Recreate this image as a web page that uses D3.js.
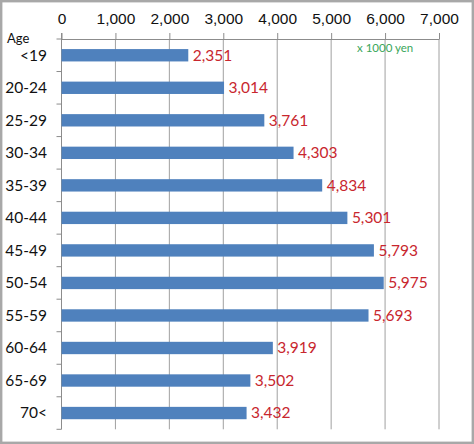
<!DOCTYPE html>
<meta charset="utf-8">
<style>
  body { margin: 0; background: #fff; }
  svg { display: block; font-family: Lato, "Open Sans", sans-serif; }
  .grid line { stroke: #a0a0a0; }
  .xaxis path, .xaxis line, .yaxis line { stroke: #8c8c8c; }
  .xaxis text { font-size: 15.5px; fill: #111; }
  .cat { font-size: 15.5px; fill: #111; }
  .val { font-size: 15.5px; fill: #c8262e; }
</style>
<body>
</body>
<script src="https://cdn.jsdelivr.net/npm/d3@7/dist/d3.min.js"></script>
<script>
  const ages = ['<19', '20-24', '25-29', '30-34', '35-39', '40-44', '45-49',
                '50-54', '55-59', '60-64', '65-69', '70<'];
  const income = [2351, 3014, 3761, 4303, 4834, 5301, 5793, 5975, 5693, 3919, 3502, 3432];
  const xTicks = [0, 1000, 2000, 3000, 4000, 5000, 6000, 7000];
  const unitLabel = 'x 1000 yen';
  const axisTitle = 'Age';

  const w = 474, h = 444;
  const l = 61.5, r = 439, t = 39, b = 429.3;

  const svg = d3.select('body').append('svg')
    .attr('width', w)
    .attr('height', h);

  svg.append('rect')
    .attr('x', 1.2).attr('y', 1.2)
    .attr('width', w - 2.4).attr('height', h - 2.4)
    .attr('fill', '#fff')
    .attr('stroke', '#a8a8a8')
    .attr('stroke-width', 2.4);

  const x = d3.scaleLinear().domain([0, 7000]).range([l, r]);
  const y = d3.scaleBand().domain(ages).range([t, b])
    .paddingInner(0.62).paddingOuter(0.31);
  const data = ages.map((a, i) => ({age: a, v: income[i]}));

  // vertical gridlines
  svg.append('g').attr('class', 'grid')
    .selectAll('line')
    .data(xTicks.slice(1))
    .join('line')
    .attr('x1', d => x(d)).attr('x2', d => x(d))
    .attr('y1', t).attr('y2', b);

  // top axis
  svg.append('g').attr('class', 'xaxis')
    .attr('transform', `translate(0, ${t})`)
    .call(d3.axisTop(x).tickValues(xTicks).tickFormat(d3.format(',')).tickSize(6).tickSizeOuter(0).tickPadding(9))
    .call(g => g.select('.domain').attr('stroke', '#8c8c8c'));

  // left axis line + ticks at band edges
  const yaxis = svg.append('g').attr('class', 'yaxis');
  yaxis.append('line')
    .attr('x1', l).attr('x2', l).attr('y1', t - 6).attr('y2', b);
  const step = y.step();
  const edges = ages.map(a => y(a) - (step - y.bandwidth()) / 2).concat([b]);
  yaxis.selectAll('line.tk')
    .data(edges)
    .join('line').attr('class', 'tk')
    .attr('x1', l - 5).attr('x2', l)
    .attr('y1', d => d).attr('y2', d => d);

  // bars
  svg.append('g')
    .selectAll('rect')
    .data(data)
    .join('rect')
    .attr('x', x(0))
    .attr('y', d => y(d.age))
    .attr('width', d => x(d.v) - x(0))
    .attr('height', y.bandwidth())
    .attr('fill', '#4f81bd');

  // category labels
  svg.append('g')
    .selectAll('text')
    .data(data)
    .join('text')
    .attr('class', 'cat')
    .attr('x', 47)
    .attr('y', d => y(d.age) + y.bandwidth() / 2)
    .attr('dy', '0.35em')
    .attr('text-anchor', 'end')
    .text(d => d.age);

  // value labels
  svg.append('g')
    .selectAll('text')
    .data(data)
    .join('text')
    .attr('class', 'val')
    .attr('x', d => x(d.v) + 4.5)
    .attr('y', d => y(d.age) + y.bandwidth() / 2)
    .attr('dy', '0.35em')
    .text(d => d3.format(',')(d.v));

  svg.append('text')
    .attr('x', 7).attr('y', 43)
    .attr('font-size', 13)
    .attr('fill', '#111')
    .text(axisTitle);

  svg.append('text')
    .attr('x', 357).attr('y', 52)
    .attr('font-size', 11.5)
    .attr('fill', '#3aa65a')
    .text(unitLabel);
</script>
